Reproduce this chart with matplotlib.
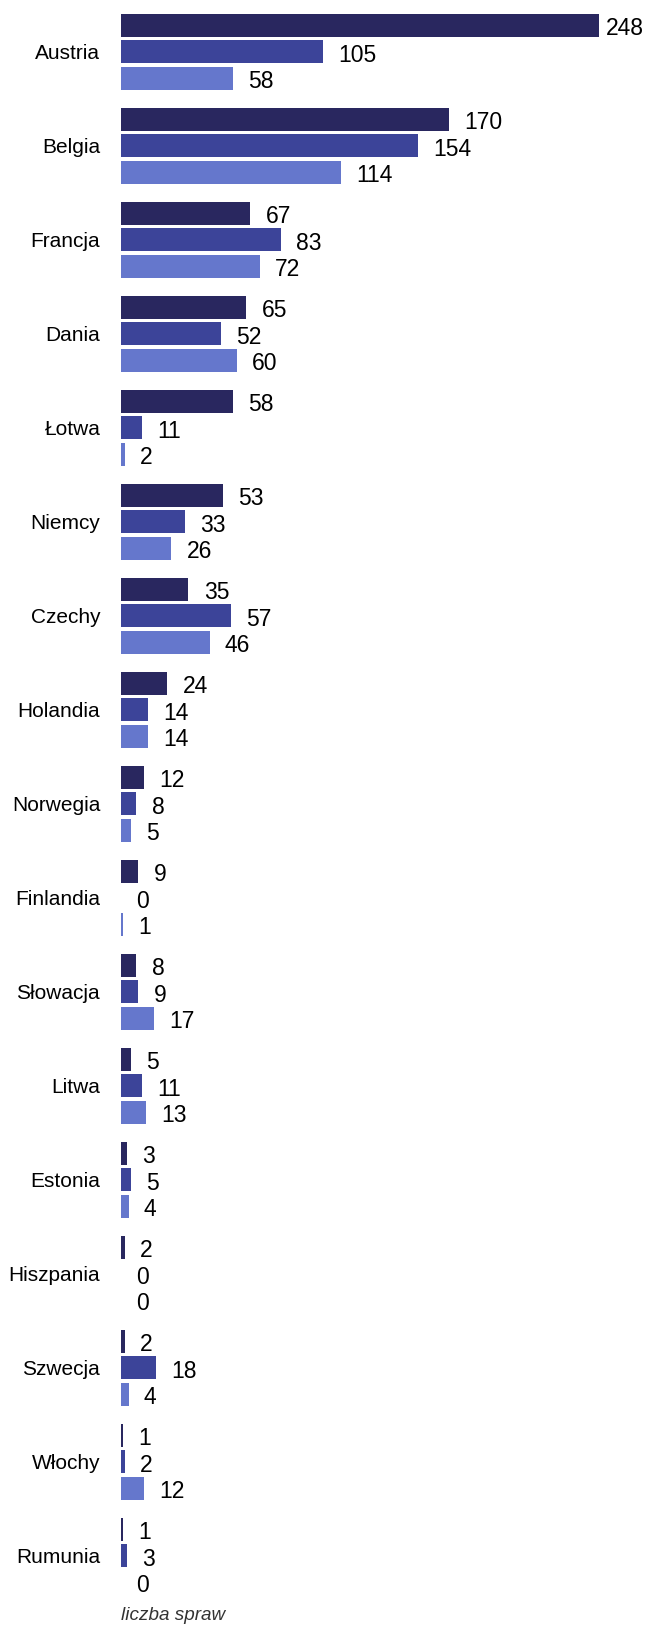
import numpy as np
import matplotlib.pyplot as plt

plt.rcParams['font.family'] = ['Liberation Sans', 'DejaVu Sans']

countries = ['Austria', 'Belgia', 'Francja', 'Dania', 'Łotwa', 'Niemcy', 'Czechy',
             'Holandia', 'Norwegia', 'Finlandia', 'Słowacja', 'Litwa', 'Estonia',
             'Hiszpania', 'Szwecja', 'Włochy', 'Rumunia']
s1 = [248, 170, 67, 65, 58, 53, 35, 24, 12, 9, 8, 5, 3, 2, 2, 1, 1]
s2 = [105, 154, 83, 52, 11, 33, 57, 14, 8, 0, 9, 11, 5, 0, 18, 2, 3]
s3 = [58, 114, 72, 60, 2, 26, 46, 14, 5, 1, 17, 13, 4, 0, 4, 12, 0]
colors = ['#29275f', '#3c4499', '#6577cc']

W, H = 649, 1625
fig = plt.figure(figsize=(W / 100, H / 100), dpi=100)
x0, x1 = 121, 599
gap = 94.0
top_c = 51.8
ax = fig.add_axes([x0 / W, 0, (x1 - x0) / W, 1])
ax.set_xlim(0, max(s1))
ax.set_ylim(16 + (H - (top_c + 16 * gap)) / gap, -top_c / gap)
ax.axis('off')

y = np.arange(len(countries))
pitch = 0.281
bh = 0.248
vmax = max(max(s1), max(s2), max(s3))
for k, (vals, c) in enumerate(zip([s1, s2, s3], colors)):
    yy = y + (k - 1) * pitch
    ax.barh(yy, vals, height=bh, color=c, linewidth=0)
    for yi, v in zip(yy, vals):
        off = 5 if v == vmax else 11
        ax.annotate(str(v), (v, yi), xytext=(off, -2.5), textcoords='offset points',
                    va='center', ha='left', fontsize=16.5, color='black')

for yi, name in zip(y, countries):
    ax.annotate(name, (0, yi), xytext=(-15, -1.5), textcoords='offset points',
                va='center', ha='right', fontsize=15, color='black')

fig.text(x0 / W, 1 - 1615 / H, 'liczba spraw', fontsize=13.6, style='italic',
         color='#333333', ha='left', va='center')

fig.savefig('out.png', dpi=100)
